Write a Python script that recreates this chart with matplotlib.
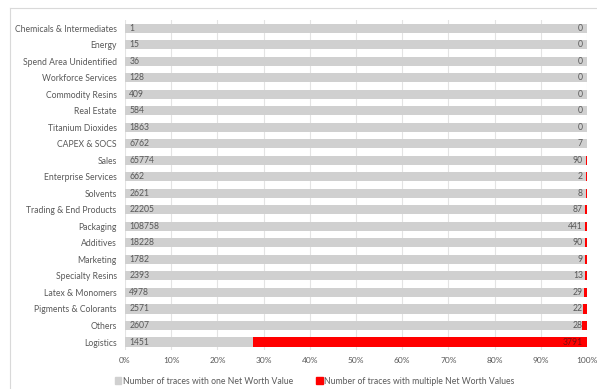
import matplotlib.pyplot as plt
from matplotlib.lines import Line2D
from matplotlib.patches import Patch

plt.rcParams['font.family'] = ['Lato', 'DejaVu Sans']

categories = ['Chemicals & Intermediates', 'Energy', 'Spend Area Unidentified',
              'Workforce Services', 'Commodity Resins', 'Real Estate',
              'Titanium Dioxides', 'CAPEX & SOCS', 'Sales', 'Enterprise Services',
              'Solvents', 'Trading & End Products', 'Packaging', 'Additives',
              'Marketing', 'Specialty Resins', 'Latex & Monomers',
              'Pigments & Colorants', 'Others', 'Logistics']
one_value = [1, 15, 36, 128, 409, 584, 1863, 6762, 65774, 662,
             2621, 22205, 108758, 18228, 1782, 2393, 4978, 2571, 2607, 1451]
multi_value = [0, 0, 0, 0, 0, 0, 0, 7, 90, 2,
               8, 87, 441, 90, 9, 13, 29, 22, 28, 3791]
ticks = ['0%', '10%', '20%', '30%', '40%', '50%', '60%', '70%', '80%', '90%', '100%']

txt = '#595959'
grey = '#D0D0D0'
red = '#FF0000'
fs = 6.2

fig = plt.figure(figsize=(5.97, 3.89), dpi=100)
ax = fig.add_axes([0.2094, 0.0995, 0.7739, 0.8495])

pos = list(range(len(categories)))
share_one = [a / (a + b) * 100 for a, b in zip(one_value, multi_value)]
share_multi = [b / (a + b) * 100 for a, b in zip(one_value, multi_value)]

ax.barh(pos, share_one, height=0.55, color=grey, zorder=2)
ax.barh(pos, share_multi, left=share_one, height=0.55, color=red, zorder=2)

for y, a, b in zip(pos, one_value, multi_value):
    ax.annotate(str(a), (0, y), xytext=(3, 0), textcoords='offset points',
                ha='left', va='center', fontsize=fs, color=txt, zorder=3)
    ax.annotate(str(b), (100, y), xytext=(-3, 0), textcoords='offset points',
                ha='right', va='center', fontsize=fs,
                color='#7A1010' if b > 1000 else txt, zorder=3)

ax.set_xlim(0, 100)
ax.set_ylim(len(categories) - 0.5, -0.5)
ax.set_xticks(range(0, 101, 10))
ax.set_xticklabels(ticks)
ax.set_yticks(pos)
ax.set_yticklabels(categories)
ax.tick_params(axis='both', length=0, labelsize=fs, colors=txt)
ax.tick_params(axis='x', labelsize=6.0, pad=5)
ax.tick_params(axis='y', pad=6)
ax.grid(axis='x', color='#E3E3E3', linewidth=0.8, zorder=0)
for s in ax.spines.values():
    s.set_visible(False)

handles = [Patch(color=grey, label='Number of traces with one Net Worth Value'),
           Patch(color=red, label='Number of traces with multiple Net Worth Values')]
fig.legend(handles=handles, loc='center', bbox_to_anchor=(0.527, 0.02), ncol=2,
           frameon=False, fontsize=fs, labelcolor=txt, handlelength=0.8,
           handleheight=0.8, handletextpad=0.2, columnspacing=2.6)

# light border around the chart area
fig.add_artist(Line2D([10 / 597, 1], [1 - 8 / 389, 1 - 8 / 389], color='#D9D9D9', linewidth=0.8))
fig.add_artist(Line2D([10 / 597, 10 / 597], [0, 1 - 8 / 389], color='#D9D9D9', linewidth=0.8))

fig.savefig('out.png', dpi=100)
